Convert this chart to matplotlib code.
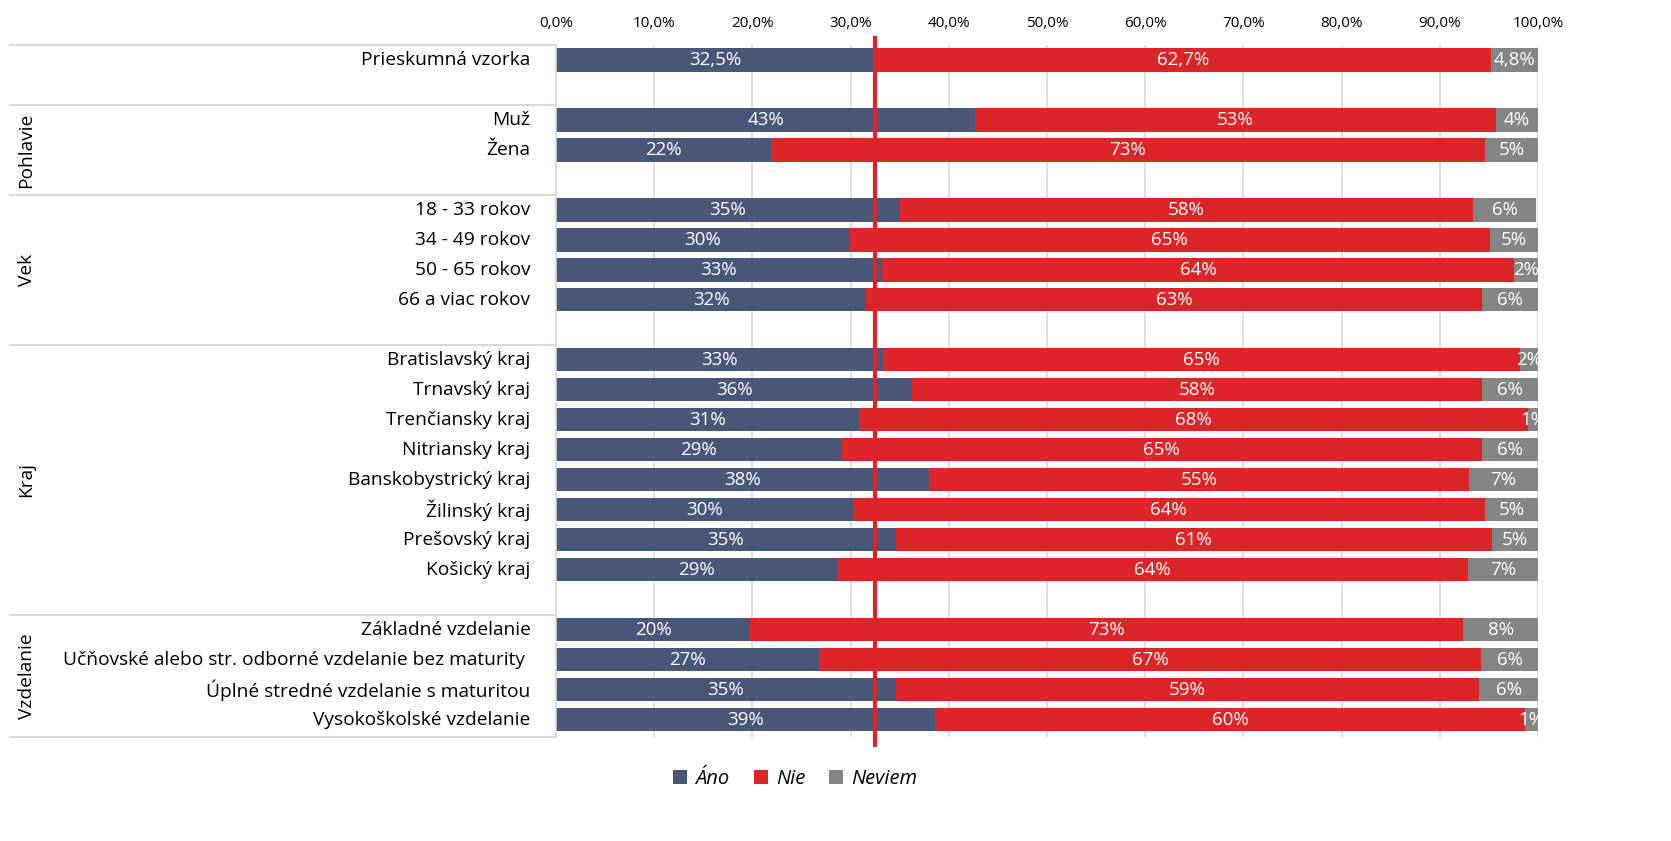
import numpy as np
import matplotlib.pyplot as plt

plt.rcParams['font.family'] = ['Open Sans', 'DejaVu Sans']

# data
categories = ['Prieskumná vzorka', '',
              'Muž', 'Žena', '',
              '18 - 33 rokov', '34 - 49 rokov', '50 - 65 rokov', '66 a viac rokov', '',
              'Bratislavský kraj', 'Trnavský kraj', 'Trenčiansky kraj', 'Nitriansky kraj',
              'Banskobystrický kraj', 'Žilinský kraj', 'Prešovský kraj', 'Košický kraj', '',
              'Základné vzdelanie', 'Učňovské alebo str. odborné vzdelanie bez maturity ',
              'Úplné stredné vzdelanie s maturitou', 'Vysokoškolské vzdelanie']
ano = [32.5, None, 42.7, 21.9, None, 35.0, 29.9, 33.2, 31.6, None,
       33.3, 36.3, 30.9, 29.1, 38.0, 30.2, 34.6, 28.6, None,
       19.8, 26.8, 34.6, 38.6]
nie = [62.7, None, 53.0, 72.7, None, 58.4, 65.2, 64.4, 62.7, None,
       64.9, 58.0, 68.1, 65.2, 55.0, 64.4, 60.7, 64.3, None,
       72.6, 67.4, 59.4, 60.1]
neviem = [4.8, None, 4.3, 5.4, None, 6.4, 4.9, 2.4, 5.7, None,
          1.8, 5.7, 1.0, 5.7, 7.0, 5.4, 4.7, 7.1, None,
          7.6, 5.8, 6.0, 1.3]
groups = ['Pohlavie', 'Vek', 'Kraj', 'Vzdelanie']
group_bounds = [(1.5, 4.5), (4.5, 9.5), (9.5, 18.5), (18.5, 22.57)]
reference = 32.5

series_names = ['Áno', 'Nie', 'Neviem']
colors = ['#485678', '#DC2528', '#858585']

fig = plt.figure(figsize=(16.71, 8.41), dpi=100)
ax = fig.add_axes([0.3327, 0.1237, 0.5877, 0.8228])

y = np.arange(len(categories))
idx = [i for i, v in enumerate(ano) if v is not None]
left = np.zeros(len(idx))
for name, vals, col in zip(series_names, [ano, nie, neviem], colors):
    v = np.array([vals[i] for i in idx])
    bars = ax.barh(y[idx], v, left=left, height=0.77, color=col, label=name, zorder=2)
    labs = []
    for k, val in zip(idx, v):
        if k == 0:
            labs.append(f'{val:.1f}%'.replace('.', ','))
        else:
            labs.append(f'{val:.0f}%')
    ax.bar_label(bars, labels=labs, label_type='center', color='white', fontsize=13.5)
    left = left + v

ax.axvline(reference, ymin=-0.012, ymax=1.01, color='#DC2528', lw=3, zorder=4, clip_on=False)

ax.set_xlim(0, 100)
ax.set_ylim(22.57, -0.5)
ax.set_xticks(np.arange(0, 101, 10))
ax.set_xticklabels([f'{t:.1f}%'.replace('.', ',') for t in np.arange(0, 101, 10)], fontsize=11)
ax.xaxis.tick_top()
ax.tick_params(axis='x', length=0, pad=10)
ax.grid(axis='x', color='#d9d9d9', lw=1.2, zorder=0)
ax.set_yticks([])
for s in ['top', 'right', 'bottom']:
    ax.spines[s].set_visible(False)
ax.spines['left'].set_color('#d9d9d9')
ax.spines['left'].set_linewidth(1.2)

# category labels
for i, c in enumerate(categories):
    if c:
        ax.text(-0.026, i, c, transform=ax.get_yaxis_transform(), ha='right', va='center',
                fontsize=13.8)

# group separators and labels
trans = ax.get_yaxis_transform()
for yy in [-0.5, 1.5, 4.5, 9.5, 18.5, 22.57]:
    ax.plot([-0.556, 0], [yy, yy], transform=trans, color='#d9d9d9', lw=1.5, clip_on=False)
for g, (a, b) in zip(groups, group_bounds):
    ax.text(-0.539, (a + b) / 2, g, transform=trans, rotation=90, ha='center', va='center',
            fontsize=13.8)

leg = fig.legend(loc='center', bbox_to_anchor=(0.476, 0.074), ncol=3, frameon=False,
                 prop={'style': 'italic', 'size': 14.5}, handlelength=0.7, handleheight=0.7,
                 columnspacing=1.2, handletextpad=0.4)

plt.savefig('out.png', dpi=100)
